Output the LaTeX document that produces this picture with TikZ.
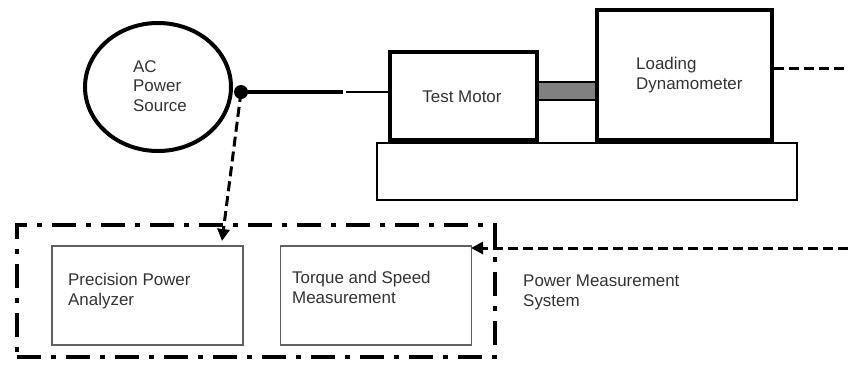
\documentclass[tikz,border=0pt]{standalone}
\usepackage{fontspec}
\setmainfont{Liberation Sans}
\usetikzlibrary{arrows.meta,shapes.geometric}
\definecolor{txt}{HTML}{333333}
\definecolor{boxgray}{HTML}{606060}
\definecolor{shaftgray}{HTML}{808080}
\begin{document}
\begin{tikzpicture}[x=1bp,y=-1bp,
  lbl/.style={font=\fontsize{17}{20}\selectfont, text=txt, align=left, inner sep=0pt},
  heavybox/.style={draw=black, line width=4bp, fill=white, inner sep=0pt},
  lightbox/.style={draw=boxgray, line width=1.5bp, fill=white, inner sep=0pt, minimum width=191bp, minimum height=99bp},
  dashline/.style={line width=3bp, dash pattern=on 10bp off 5bp},
  tip/.style={-{Triangle[length=12bp,width=12bp]}},
  frame/.style={draw=black, line width=4bp, dash pattern=on 24bp off 10bp on 5bp off 10bp, inner sep=0pt}
]
\useasboundingbox (0,0) rectangle (848,364);
% base and machines
\node[draw=black, line width=2bp, fill=white, minimum width=420bp, minimum height=57bp, inner sep=0pt] (base) at (587,171.5) {};
\node[heavybox, minimum width=147bp, minimum height=88bp] (motor) at (463.5,96) {};
\node[heavybox, minimum width=175bp, minimum height=130bp] (dyno) at (684.5,75) {};
\node[draw=black, line width=2bp, fill=shaftgray, minimum width=58bp, minimum height=18bp, inner sep=0pt] (shaft) at (567,91) {};
\node[lbl] (motorlbl) at (462,97) {Test Motor};
\node[lbl, anchor=north west] (dynolbl) at (636,57) {Loading\\Dynamometer};
% AC source
\node[ellipse, draw=black, line width=4bp, minimum width=146bp, minimum height=128bp, inner sep=0pt] (ac) at (158,87) {};
\node[lbl, anchor=north west] (aclbl) at (133,60) {AC\\Power\\Source};
\node[circle, fill=black, minimum size=14bp, inner sep=0pt] (dot) at (241,92) {};
\coordinate (mid1) at (343,92);
\coordinate (mid2) at (346,92);
\draw[line width=4bp] (dot.center) -- (mid1);
\draw[line width=1.5bp] (mid2) -- (mid2 -| motor.west);
% measurement system
\node[frame, minimum width=478bp, minimum height=132bp] (frame) at (256,291) {};
\node[lightbox] (prec) at (147.5,295.5) {};
\node[lightbox] (torque) at (376,295.5) {};
\node[lbl, anchor=north west] (preclbl) at (68,273) {Precision Power\\Analyzer};
\node[lbl, anchor=north west] (torquelbl) at (292,271) {Torque and Speed\\Measurement};
\node[lbl, anchor=north west] (pms) at (523,275) {Power Measurement\\System};
% connectors
\coordinate (precin) at (222,241);
\draw[dashline, tip] (dot.center) -- (precin);
\coordinate (dynoout) at (848,68);
\draw[dashline] (dyno.east |- dynoout) -- (dynoout);
\coordinate (sysin) at (848,248);
\coordinate (torquein) at (471,248);
\draw[dashline, tip] (sysin) -- (torquein);
\end{tikzpicture}
\end{document}
